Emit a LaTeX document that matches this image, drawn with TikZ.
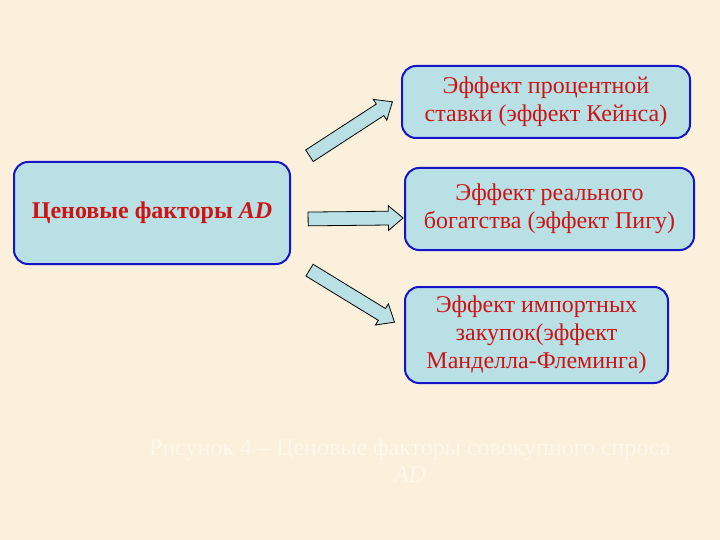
\documentclass[tikz,border=0pt]{standalone}
\usepackage{fontspec}
\setmainfont{Liberation Serif}
\usetikzlibrary{positioning,shapes.arrows,calc}
\definecolor{paper}{RGB}{250,240,220}
\definecolor{boxfill}{RGB}{185,224,229}
\definecolor{boxline}{RGB}{20,20,200}
\definecolor{txtred}{RGB}{205,20,20}
\definecolor{capt}{RGB}{253,247,236}

\begin{document}
\begin{tikzpicture}[x=1pt,y=-1pt,
    factor/.style={draw=boxline, fill=boxfill, line width=2pt, rounded corners=14pt,
      align=center, text=txtred, font=\fontsize{24}{28}\selectfont, inner sep=0pt},
    bigarrow/.style={single arrow, draw=black, fill=boxfill, line width=0.8pt,
      inner xsep=0pt, inner ysep=6.5pt, single arrow head extend=5.5pt,
      single arrow tip angle=80, single arrow head indent=0pt}]
  \fill[paper] (0,0) rectangle (720,540);
  % boxes
  \node[factor, minimum width=276pt, minimum height=102pt,
        font=\bfseries\fontsize{24}{27}\selectfont] (price) at (152,213)
        {Ценовые факторы \textit{AD}};
  \node[factor, minimum width=288pt, minimum height=72pt] (keynes) at (546,102)
        {Эффект процентной\\ставки (эффект Кейнса)};
  \node[factor, minimum width=289pt, minimum height=82pt] (pigou) at (549.5,209)
        {Эффект реального\\богатства (эффект Пигу)};
  \node[factor, minimum width=263pt, minimum height=96pt] (mundell) at (536.5,335)
        {Эффект импортных\\закупок(эффект\\Манделла-Флеминга)};
  % arrow ends
  \coordinate (a1s) at ($(price.north east)+(15,-3)$);
  \coordinate (a1e) at ($(keynes.west)+(-12,2)$);
  \coordinate (a2s) at ($(price.east)+(13,6)$);
  \coordinate (a2e) at ($(pigou.west)+(-5,9)$);
  \coordinate (a3s) at ($(price.south east)+(15,3)$);
  \coordinate (a3e) at ($(mundell.west)+(-13,-15)$);
  \foreach \s/\e in {a1s/a1e, a2s/a2e, a3s/a3e}
    \path let \p1=($(\e)-(\s)$), \n1={atan2(\y1,\x1)}, \n2={veclen(\x1,\y1)} in
      node[bigarrow, rotate=\n1, minimum height=\n2] at ($(\s)!0.5!(\e)$) {};
  % caption
  \node[text=capt, font=\fontsize{24}{27}\selectfont, align=center] (caption) at (410,461)
        {Рисунок  4 – Ценовые факторы совокупного спроса\\\textit{AD}};
\end{tikzpicture}
\end{document}
